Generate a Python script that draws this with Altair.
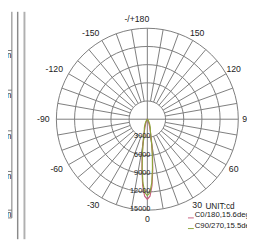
import altair as alt
import pandas as pd

# ---------------- data ----------------
ring_values = [3000, 6000, 9000, 12000, 15000]
ring_labels = ["3000", "6000", "9000", "12000", "15000"]
spoke_angles = list(range(-170, 190, 10))
axis_angles = [0, 90, 180, -90]
pos_angles = [0, 30, 60, 90, 120, 150]
pos_angle_labels = ["0", "30", "60", "90", "120", "150"]
neg_angles = [-30, -60, -90, -120, -150, 180]
neg_angle_labels = ["-30", "-60", "-90", "-120", "-150", "-/+180"]

gamma = [0, 2, 4, 6, 8, 10, 12, 14, 16, 18, 20, 25, 30, 40, 50, 60, 70, 80, 90]
c0_180 = [13200, 12700, 11000, 8500, 6200, 4300, 2900, 2000, 1400, 1000, 700,
          350, 180, 70, 30, 15, 8, 4, 0]
c90_270 = [12600, 12100, 10500, 8100, 5900, 4100, 2800, 2100, 1800, 1600, 1400,
           900, 500, 150, 50, 20, 8, 3, 0]
series_names = ["C0/180,15.6deg", "C90/270,15.5deg"]
series_colors = ["#c8607e", "#8ea43a"]
unit_label = "UNIT:cd"

# ---------------- layout ----------------
W, H = 247, 235
CX, CY = 144, 111
R_PX = 94.0
RMAX = 15000
K = RMAX / R_PX
LABEL_R = 103 * K
FONT = "Liberation Sans"

xs = alt.Scale(domain=[-CX * K, (W - CX) * K], nice=False, zero=False)
ys = alt.Scale(domain=[-(H - CY) * K, CY * K], nice=False, zero=False)

polar = dict(
    px="datum.r * sin(datum.a * PI / 180)",
    py="-datum.r * cos(datum.a * PI / 180)",
)

# rings
ring_rows = [{"ring": r, "r": r, "a": a} for r in ring_values for a in range(0, 361, 5)]
rings = alt.Chart(pd.DataFrame(ring_rows)).transform_calculate(**polar).mark_line(
    color="#7a7a7a", strokeWidth=1
).encode(
    x=alt.X("px:Q", scale=xs, axis=None),
    y=alt.Y("py:Q", scale=ys, axis=None),
    detail="ring:N",
    order="a:Q",
)

# spokes
spoke_rows = [{"a": a, "r0": 0 if a in axis_angles else ring_values[0], "r1": RMAX}
              for a in spoke_angles]
spokes = alt.Chart(pd.DataFrame(spoke_rows)).transform_calculate(
    x0="datum.r0 * sin(datum.a * PI / 180)",
    y0="-datum.r0 * cos(datum.a * PI / 180)",
    x1="datum.r1 * sin(datum.a * PI / 180)",
    y1="-datum.r1 * cos(datum.a * PI / 180)",
).mark_rule(color="#7a7a7a", strokeWidth=1).encode(
    x=alt.X("x0:Q", scale=xs, axis=None),
    y=alt.Y("y0:Q", scale=ys, axis=None),
    x2="x1:Q",
    y2="y1:Q",
)

# curves
curve_rows = []
for name, vals in zip(series_names, [c0_180, c90_270]):
    for g, v in zip(gamma[::-1], vals[::-1]):
        curve_rows.append({"s": name, "a": -g, "r": v})
    for g, v in zip(gamma[1:], vals[1:]):
        curve_rows.append({"s": name, "a": g, "r": v})
curve_df = pd.DataFrame(curve_rows)
curve_df["o"] = range(len(curve_df))
curves = alt.Chart(curve_df).transform_calculate(**polar).mark_line(
    strokeWidth=1.2
).encode(
    x=alt.X("px:Q", scale=xs, axis=None),
    y=alt.Y("py:Q", scale=ys, axis=None),
    color=alt.Color("s:N", scale=alt.Scale(domain=series_names, range=series_colors), legend=None),
    order="o:Q",
)

# angle labels
pos_df = pd.DataFrame({"a": pos_angles, "t": pos_angle_labels, "r": LABEL_R})
neg_df = pd.DataFrame({"a": neg_angles, "t": neg_angle_labels, "r": LABEL_R})
pos_text = alt.Chart(pos_df).transform_calculate(**polar).mark_text(
    font=FONT, fontSize=9, color="#222", align="center", baseline="middle"
).encode(x=alt.X("px:Q", scale=xs, axis=None), y=alt.Y("py:Q", scale=ys, axis=None), text="t:N")
neg_text = alt.Chart(neg_df).transform_calculate(**polar).mark_text(
    font=FONT, fontSize=9, color="#222", align="right", baseline="middle", dx=2
).encode(x=alt.X("px:Q", scale=xs, axis=None), y=alt.Y("py:Q", scale=ys, axis=None), text="t:N")

# radial value labels
val_df = pd.DataFrame({"a": [0] * len(ring_values), "r": ring_values, "t": ring_labels})
val_text = alt.Chart(val_df).transform_calculate(**polar).mark_text(
    font=FONT, fontSize=7.5, color="#222", align="right", baseline="middle", dx=3, dy=-1
).encode(x=alt.X("px:Q", scale=xs, axis=None), y=alt.Y("py:Q", scale=ys, axis=None), text="t:N")

# legend (manual)
legend_layers = [
    alt.Chart(pd.DataFrame({"t": [unit_label]})).mark_text(
        font=FONT, fontSize=8.5, color="#222", align="left", baseline="middle"
    ).encode(x=alt.value(204), y=alt.value(201), text="t:N")
]
for i, (name, col) in enumerate(zip(series_names, series_colors)):
    yy = 210 + 11 * i
    legend_layers.append(
        alt.Chart(pd.DataFrame({"t": [name]})).mark_text(
            font=FONT, fontSize=8, color="#222", align="left", baseline="middle"
        ).encode(x=alt.value(193), y=alt.value(yy), text="t:N")
    )
    legend_layers.append(
        alt.Chart(pd.DataFrame({"t": [name]})).mark_rule(color=col, strokeWidth=1).encode(
            x=alt.value(186), x2=alt.value(192), y=alt.value(yy + 3)
        )
    )

# left frame decorations (cut-off panel)
deco = [
    alt.Chart(pd.DataFrame({"t": [0]})).mark_rule(color="#8a8a8a", strokeWidth=1.5).encode(
        x=alt.value(10), y=alt.value(0), y2=alt.value(H)),
    alt.Chart(pd.DataFrame({"t": [0]})).mark_rule(color="#b0b0b0", strokeWidth=2).encode(
        x=alt.value(17), y=alt.value(0), y2=alt.value(H)),
    alt.Chart(pd.DataFrame({"t": [0]})).mark_rule(color="#777", strokeWidth=1).encode(
        x=alt.value(4), y=alt.value(0), y2=alt.value(213)),
]
for yy in [40, 81, 123, 165, 205, 213]:
    deco.append(alt.Chart(pd.DataFrame({"t": [0]})).mark_rule(color="#777", strokeWidth=1).encode(
        x=alt.value(0), x2=alt.value(4), y=alt.value(yy)))
for yy in [45, 86, 128, 170, 209]:
    deco.append(alt.Chart(pd.DataFrame({"t": ["cm"]})).mark_text(
        font=FONT, fontSize=9, color="#222", align="right", baseline="middle"
    ).encode(x=alt.value(3.5), y=alt.value(yy), text="t:N"))

chart = alt.layer(
    rings, spokes, curves, pos_text, neg_text, val_text, *legend_layers, *deco
).properties(
    width=W, height=H, padding=0, autosize=alt.AutoSizeParams(type="none"),
    background="white",
).configure_view(strokeOpacity=0)

chart.save("out.html", embed_options={"renderer": "svg", "actions": False})
